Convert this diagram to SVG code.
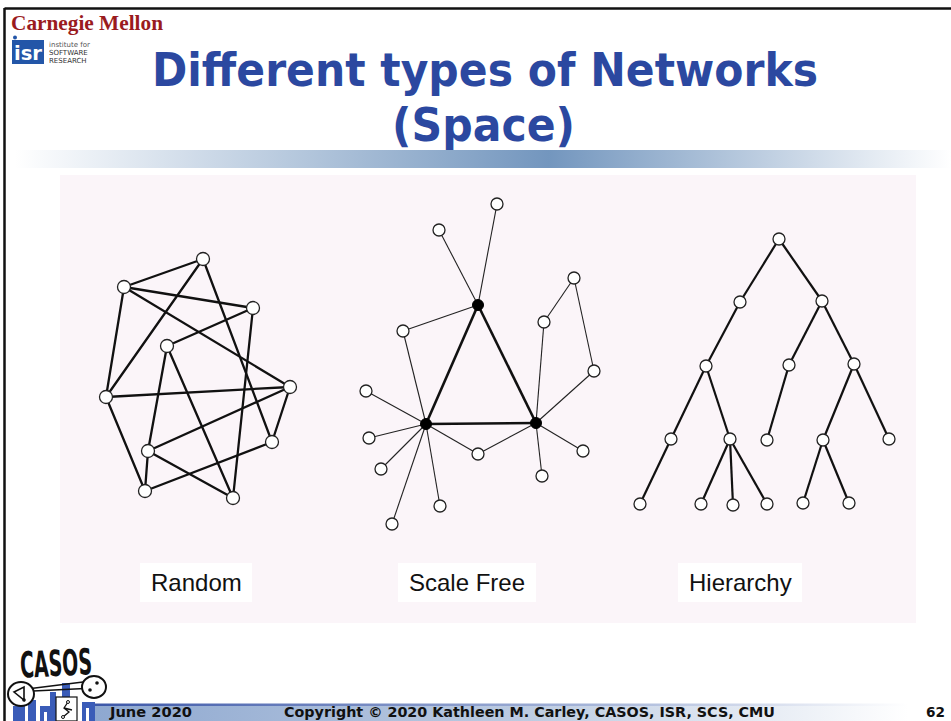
<svg xmlns="http://www.w3.org/2000/svg" width="951" height="721" viewBox="0 0 951 721">
<defs>
<linearGradient id="hdr" x1="15" y1="0" x2="951" y2="0" gradientUnits="userSpaceOnUse">
<stop offset="0" stop-color="#ffffff"/><stop offset="0.57" stop-color="#7396be"/><stop offset="1" stop-color="#ffffff"/>
</linearGradient>
<linearGradient id="ftr" x1="95" y1="0" x2="951" y2="0" gradientUnits="userSpaceOnUse">
<stop offset="0" stop-color="#8ea8d0"/><stop offset="0.5" stop-color="#bccbe1"/><stop offset="0.95" stop-color="#ffffff"/>
</linearGradient>
<linearGradient id="ftrl" x1="95" y1="0" x2="951" y2="0" gradientUnits="userSpaceOnUse">
<stop offset="0" stop-color="#3c57a8"/><stop offset="0.6" stop-color="#a9b8da"/><stop offset="0.95" stop-color="#ffffff"/>
</linearGradient>
<style>
.title{font-family:"DejaVu Sans",Verdana,sans-serif;font-weight:bold;font-size:47px;fill:#2b48a0}
.lbl{font-family:"Liberation Sans",Arial,sans-serif;font-size:24px;fill:#111}
.ft{font-family:"DejaVu Sans",Verdana,sans-serif;font-weight:bold;font-size:13.5px;fill:#111}
.n{fill:#fff;stroke:#222;stroke-width:1.3}
.hub{fill:#000;stroke:#000;stroke-width:1}
.er{stroke:#111;stroke-width:2.3;fill:none;stroke-linecap:round}
.es{stroke:#222;stroke-width:1.1;fill:none}
.et{stroke:#111;stroke-width:2.6;fill:none}
.eh{stroke:#111;stroke-width:2.2;fill:none}
.blu{fill:#3a5cb8}
</style>
</defs>
<rect width="951" height="721" fill="#ffffff"/>
<!-- frame -->
<line x1="4.5" y1="8.5" x2="951" y2="8.5" stroke="#111" stroke-width="2.5"/>
<line x1="4.5" y1="8" x2="4.5" y2="721" stroke="#111" stroke-width="2.5"/>
<!-- logo CMU -->
<g id="cmu-logo">
<text x="11" y="30" font-family="'Liberation Serif','Times New Roman',serif" font-weight="bold" font-size="22" fill="#9a1b1e" textLength="152" lengthAdjust="spacingAndGlyphs">Carnegie Mellon</text>
<rect x="12" y="40" width="32" height="24" fill="#2356a8"/>
<circle cx="15" cy="37.5" r="2" fill="#2356a8"/>
<text x="28" y="60" text-anchor="middle" font-family="'DejaVu Sans',sans-serif" font-weight="bold" font-size="20" fill="#ffffff" textLength="28" lengthAdjust="spacingAndGlyphs">isr</text>
<text x="49" y="47" font-family="'DejaVu Sans',sans-serif" font-size="7" fill="#555">institute for</text>
<text x="49" y="55" font-family="'DejaVu Sans',sans-serif" font-size="7" fill="#333">SOFTWARE</text>
<text x="49" y="63" font-family="'DejaVu Sans',sans-serif" font-size="7" fill="#333">RESEARCH</text>
</g>
<!-- title -->
<g id="title">
<text class="title" x="152" y="86" textLength="666" lengthAdjust="spacingAndGlyphs">Different types of Networks</text>
<text class="title" x="392" y="141" textLength="183" lengthAdjust="spacingAndGlyphs">(Space)</text>
</g>
<rect x="15" y="150" width="936" height="18" fill="url(#hdr)"/>
<!-- panel -->
<rect x="60" y="175" width="856" height="448" fill="#fbf5f9"/>
<!-- connectors -->
<g id="connectors">
<g id="random-edges">
<line class="er" x1="203" y1="259" x2="124" y2="287"/>
<line class="er" x1="203" y1="259" x2="106" y2="397"/>
<line class="er" x1="203" y1="259" x2="272" y2="442"/>
<line class="er" x1="124" y1="287" x2="253" y2="308"/>
<line class="er" x1="124" y1="287" x2="290" y2="387"/>
<line class="er" x1="124" y1="287" x2="106" y2="397"/>
<line class="er" x1="253" y1="308" x2="167" y2="346"/>
<line class="er" x1="253" y1="308" x2="233" y2="498"/>
<line class="er" x1="167" y1="346" x2="148" y2="451"/>
<line class="er" x1="167" y1="346" x2="233" y2="498"/>
<line class="er" x1="290" y1="387" x2="106" y2="397"/>
<line class="er" x1="290" y1="387" x2="148" y2="451"/>
<line class="er" x1="290" y1="387" x2="272" y2="442"/>
<line class="er" x1="106" y1="397" x2="145" y2="491"/>
<line class="er" x1="148" y1="451" x2="145" y2="491"/>
<line class="er" x1="148" y1="451" x2="233" y2="498"/>
<line class="er" x1="145" y1="491" x2="272" y2="442"/>
</g>
<g id="scalefree-edges">
<line class="et" x1="478" y1="305" x2="426" y2="424"/>
<line class="et" x1="478" y1="305" x2="536" y2="423"/>
<line class="et" x1="426" y1="424" x2="536" y2="423"/>
<line class="es" x1="478" y1="305" x2="497" y2="204"/>
<line class="es" x1="478" y1="305" x2="439" y2="230"/>
<line class="es" x1="478" y1="305" x2="403" y2="331"/>
<line class="es" x1="403" y1="331" x2="426" y2="424"/>
<line class="es" x1="426" y1="424" x2="366" y2="391"/>
<line class="es" x1="426" y1="424" x2="369" y2="438"/>
<line class="es" x1="426" y1="424" x2="381" y2="469"/>
<line class="es" x1="426" y1="424" x2="392" y2="524"/>
<line class="es" x1="426" y1="424" x2="440" y2="506"/>
<line class="es" x1="426" y1="424" x2="478" y2="454"/>
<line class="es" x1="478" y1="454" x2="536" y2="423"/>
<line class="es" x1="536" y1="423" x2="544" y2="322"/>
<line class="es" x1="544" y1="322" x2="574" y2="278"/>
<line class="es" x1="574" y1="278" x2="594" y2="371"/>
<line class="es" x1="594" y1="371" x2="536" y2="423"/>
<line class="es" x1="536" y1="423" x2="583" y2="451"/>
<line class="es" x1="536" y1="423" x2="542" y2="476"/>
</g>
<g id="hierarchy-edges">
<line class="eh" x1="779" y1="239" x2="740" y2="302"/>
<line class="eh" x1="779" y1="239" x2="822" y2="301"/>
<line class="eh" x1="740" y1="302" x2="706" y2="366"/>
<line class="eh" x1="822" y1="301" x2="789" y2="365"/>
<line class="eh" x1="822" y1="301" x2="854" y2="364"/>
<line class="eh" x1="706" y1="366" x2="671" y2="439"/>
<line class="eh" x1="706" y1="366" x2="730" y2="439"/>
<line class="eh" x1="789" y1="365" x2="767" y2="440"/>
<line class="eh" x1="854" y1="364" x2="823" y2="440"/>
<line class="eh" x1="854" y1="364" x2="889" y2="439"/>
<line class="eh" x1="671" y1="439" x2="640" y2="504"/>
<line class="eh" x1="730" y1="439" x2="701" y2="504"/>
<line class="eh" x1="730" y1="439" x2="733" y2="505"/>
<line class="eh" x1="730" y1="439" x2="767" y2="504"/>
<line class="eh" x1="823" y1="440" x2="803" y2="503"/>
<line class="eh" x1="823" y1="440" x2="849" y2="503"/>
</g>
</g>
<!-- random nodes -->
<g id="r-a"><circle class="n" cx="203" cy="259" r="6.5"/></g>
<g id="r-b"><circle class="n" cx="124" cy="287" r="6.5"/></g>
<g id="r-c"><circle class="n" cx="253" cy="308" r="6.5"/></g>
<g id="r-d"><circle class="n" cx="167" cy="346" r="6.5"/></g>
<g id="r-e"><circle class="n" cx="290" cy="387" r="6.5"/></g>
<g id="r-f"><circle class="n" cx="106" cy="397" r="6.5"/></g>
<g id="r-g"><circle class="n" cx="272" cy="442" r="6.5"/></g>
<g id="r-h"><circle class="n" cx="148" cy="451" r="6.5"/></g>
<g id="r-i"><circle class="n" cx="145" cy="491" r="6.5"/></g>
<g id="r-j"><circle class="n" cx="233" cy="498" r="6.5"/></g>
<!-- scale free nodes -->
<g id="sf-hub1"><circle class="hub" cx="478" cy="305" r="5.5"/></g>
<g id="sf-hub2"><circle class="hub" cx="426" cy="424" r="5.5"/></g>
<g id="sf-hub3"><circle class="hub" cx="536" cy="423" r="5.5"/></g>
<g id="sf-1"><circle class="n" cx="497" cy="204" r="6"/></g>
<g id="sf-2"><circle class="n" cx="439" cy="230" r="6"/></g>
<g id="sf-3"><circle class="n" cx="403" cy="331" r="6"/></g>
<g id="sf-4"><circle class="n" cx="574" cy="278" r="6"/></g>
<g id="sf-5"><circle class="n" cx="544" cy="322" r="6"/></g>
<g id="sf-6"><circle class="n" cx="594" cy="371" r="6"/></g>
<g id="sf-7"><circle class="n" cx="366" cy="391" r="6"/></g>
<g id="sf-8"><circle class="n" cx="369" cy="438" r="6"/></g>
<g id="sf-9"><circle class="n" cx="381" cy="469" r="6"/></g>
<g id="sf-10"><circle class="n" cx="392" cy="524" r="6"/></g>
<g id="sf-11"><circle class="n" cx="440" cy="506" r="6"/></g>
<g id="sf-12"><circle class="n" cx="478" cy="454" r="6"/></g>
<g id="sf-13"><circle class="n" cx="583" cy="451" r="6"/></g>
<g id="sf-14"><circle class="n" cx="542" cy="476" r="6"/></g>
<!-- hierarchy nodes -->
<g id="h-0"><circle class="n" cx="779" cy="239" r="6"/></g>
<g id="h-1"><circle class="n" cx="740" cy="302" r="6"/></g>
<g id="h-2"><circle class="n" cx="822" cy="301" r="6"/></g>
<g id="h-3"><circle class="n" cx="706" cy="366" r="6"/></g>
<g id="h-4"><circle class="n" cx="789" cy="365" r="6"/></g>
<g id="h-5"><circle class="n" cx="854" cy="364" r="6"/></g>
<g id="h-6"><circle class="n" cx="671" cy="439" r="6"/></g>
<g id="h-7"><circle class="n" cx="730" cy="439" r="6"/></g>
<g id="h-8"><circle class="n" cx="767" cy="440" r="6"/></g>
<g id="h-9"><circle class="n" cx="823" cy="440" r="6"/></g>
<g id="h-10"><circle class="n" cx="889" cy="439" r="6"/></g>
<g id="h-11"><circle class="n" cx="640" cy="504" r="6"/></g>
<g id="h-12"><circle class="n" cx="701" cy="504" r="6"/></g>
<g id="h-13"><circle class="n" cx="733" cy="505" r="6"/></g>
<g id="h-14"><circle class="n" cx="767" cy="504" r="6"/></g>
<g id="h-15"><circle class="n" cx="803" cy="503" r="6"/></g>
<g id="h-16"><circle class="n" cx="849" cy="503" r="6"/></g>
<!-- labels -->
<g id="label-random"><rect x="140" y="563" width="112" height="39" fill="#ffffff"/><text class="lbl" x="151" y="591">Random</text></g>
<g id="label-scalefree"><rect x="398" y="563" width="138" height="39" fill="#ffffff"/><text class="lbl" x="409" y="591">Scale Free</text></g>
<g id="label-hierarchy"><rect x="678" y="563" width="124" height="39" fill="#ffffff"/><text class="lbl" x="689" y="591">Hierarchy</text></g>
<!-- footer bar -->
<rect x="95" y="705" width="856" height="16" fill="url(#ftr)"/>
<rect x="95" y="703.5" width="856" height="2.5" fill="url(#ftrl)"/>
<!-- CASOS logo -->
<g id="casos-logo">
<rect class="blu" x="13" y="706" width="12" height="15"/>
<rect class="blu" x="28" y="700" width="8" height="21"/>
<rect class="blu" x="40" y="706" width="10" height="15"/>
<rect class="blu" x="50" y="692" width="6" height="29"/>
<rect class="blu" x="62" y="683" width="8" height="14"/>
<rect class="blu" x="82" y="702" width="13" height="19"/>
<rect x="86" y="708" width="3" height="13" fill="#fff"/>
<rect x="44" y="712" width="3" height="9" fill="#fff"/>
<rect x="56" y="697" width="21" height="24" fill="#fff" stroke="#111" stroke-width="1.2"/>
<path d="M68 702 L64 708 L69 712 L63 717 M64 708 L72 710" fill="none" stroke="#111" stroke-width="1.3"/>
<circle cx="68" cy="702" r="1.5" fill="#fff" stroke="#111"/>
<circle cx="63" cy="717" r="1.5" fill="#fff" stroke="#111"/>
<text x="20" y="676" font-family="'Liberation Sans Narrow','DejaVu Sans Condensed',sans-serif" font-weight="bold" font-size="36" fill="#111" textLength="72" lengthAdjust="spacingAndGlyphs" transform="rotate(-3 56 665)">CASOS</text>
<line x1="31" y1="688.5" x2="83" y2="682" stroke="#111" stroke-width="1.6"/>
<line x1="33" y1="691" x2="85" y2="688.5" stroke="#111" stroke-width="1.6"/>
<ellipse cx="21" cy="694" rx="13" ry="12" fill="#fff" stroke="#111" stroke-width="2"/>
<path d="M14 692 L24 687 L24 700 Z" fill="none" stroke="#111" stroke-width="1.6"/>
<circle cx="24" cy="700" r="1.8" fill="#111"/>
<ellipse cx="94" cy="687" rx="12" ry="11" fill="#fff" stroke="#111" stroke-width="2"/>
<circle cx="90" cy="690" r="1.8" fill="#111"/>
<circle cx="97" cy="683" r="1.8" fill="#111"/>
</g>
<!-- footer text -->
<g id="footer">
<text class="ft" x="110" y="717" textLength="82" lengthAdjust="spacingAndGlyphs">June 2020</text>
<text class="ft" x="284" y="717" textLength="491" lengthAdjust="spacingAndGlyphs">Copyright © 2020 Kathleen M. Carley, CASOS, ISR, SCS, CMU</text>
<text class="ft" x="926" y="717" textLength="19" lengthAdjust="spacingAndGlyphs">62</text>
</g>
</svg>
